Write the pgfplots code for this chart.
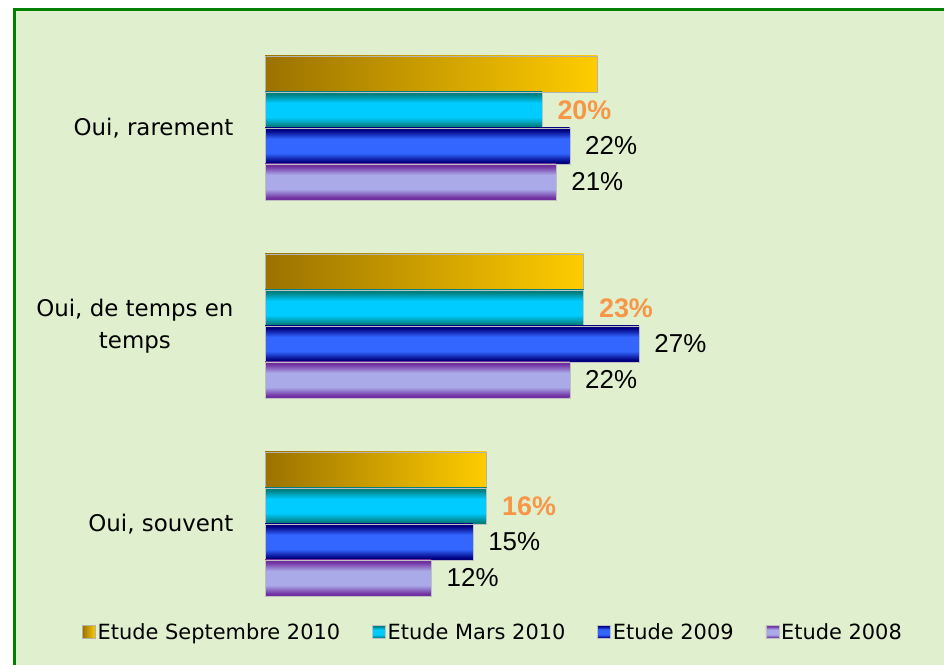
\documentclass[border=0pt]{standalone}
\usepackage{pgfplots}
\pgfplotsset{compat=1.18}
\usepackage{fontspec}
\setmainfont{DejaVu Sans}
\newfontfamily\labfont{Liberation Sans}
\definecolor{bgc}{RGB}{224,240,207}
\definecolor{bord}{RGB}{0,128,0}
\definecolor{goldL}{RGB}{155,114,0}
\definecolor{goldR}{RGB}{255,204,0}
\definecolor{tealE}{RGB}{0,128,128}
\definecolor{cyanM}{RGB}{0,204,255}
\definecolor{navyE}{RGB}{0,0,128}
\definecolor{blueM}{RGB}{51,102,255}
\definecolor{purpE}{RGB}{112,48,160}
\definecolor{lavM}{RGB}{170,170,232}
\definecolor{orangeL}{RGB}{247,150,70}
\pgfdeclareverticalshading{marsshade}{100bp}{color(0bp)=(tealE); color(28bp)=(tealE); color(40bp)=(cyanM); color(60bp)=(cyanM); color(72bp)=(tealE); color(100bp)=(tealE)}
\pgfdeclareverticalshading{bleushade}{100bp}{color(0bp)=(navyE); color(28bp)=(navyE); color(40bp)=(blueM); color(60bp)=(blueM); color(72bp)=(navyE); color(100bp)=(navyE)}
\pgfdeclareverticalshading{violshade}{100bp}{color(0bp)=(purpE); color(28bp)=(purpE); color(40bp)=(lavM); color(60bp)=(lavM); color(72bp)=(purpE); color(100bp)=(purpE)}
\pgfplotsset{
  mylegend/.style={legend image code/.code={\draw[##1, line width=0.5bp] (0bp,-6.5bp) rectangle (13bp,6.5bp);}},
  blacklab/.style={nodes near coords, point meta=explicit symbolic,
    every node near coord/.append style={text=black, anchor=west, xshift=12bp, font=\labfont\fontsize{26}{26}\selectfont}},
  orangelab/.style={nodes near coords, point meta=explicit symbolic,
    every node near coord/.append style={text=orangeL, anchor=west, xshift=12bp, font=\labfont\bfseries\fontsize{27}{27}\selectfont}},
  sept/.style={xbar, bar shift=54bp, left color=goldL, right color=goldR, draw=gray!60, line width=0.6bp, mylegend},
  mars/.style={xbar, bar shift=18bp, shading=marsshade, draw=gray!50, line width=0.4bp, mylegend, orangelab},
  e2009/.style={xbar, bar shift=-18bp, shading=bleushade, draw=gray!50, line width=0.4bp, mylegend, blacklab},
  e2008/.style={xbar, bar shift=-54bp, shading=violshade, draw=gray!50, line width=0.4bp, mylegend, blacklab},
}
\begin{document}
\begin{tikzpicture}
\path[use as bounding box] (0,0) rectangle (944bp,665bp);
\fill[bgc] (14bp,0) rectangle (944bp,655bp);
\draw[bord, line width=3bp] (14bp,0) -- (14bp,655bp) -- (944bp,655bp);
\begin{axis}[
  at={(265bp,42bp)}, anchor=south west,
  scale only axis, width=554bp, height=594bp,
  xmin=0, xmax=40, ymin=-0.5, ymax=2.5,
  xbar, bar width=36bp,
  axis line style={draw=none}, major tick length=0pt,
  xtick=\empty, ytick={0,1,2},
  yticklabels={{Oui, souvent},{Oui, de temps en\\temps},{Oui, rarement}},
  yticklabel style={font=\fontsize{23}{32}\selectfont, align=center, xshift=-28bp},
  clip=false,
  legend columns=4,
  legend style={at={(0.4116,-0.0152)}, anchor=center, draw=none, fill=none,
    font=\fontsize{21}{21}\selectfont,
    /tikz/every even column/.append style={column sep=30bp}},
]
% legend-carrying bars (Oui, rarement)
\addplot[sept] coordinates {(24,2)};
\addplot[mars] coordinates {(20,2) [20\%]};
\addplot[e2009] coordinates {(22,2) [22\%]};
\addplot[e2008] coordinates {(21,2) [21\%]};
% Oui, de temps en temps
\addplot[sept, forget plot] coordinates {(23,1)};
\addplot[mars, forget plot] coordinates {(23,1) [23\%]};
\addplot[e2009, forget plot] coordinates {(27,1) [27\%]};
\addplot[e2008, forget plot] coordinates {(22,1) [22\%]};
% Oui, souvent
\addplot[sept, forget plot] coordinates {(16,0)};
\addplot[mars, forget plot] coordinates {(16,0) [16\%]};
\addplot[e2009, forget plot] coordinates {(15,0) [15\%]};
\addplot[e2008, forget plot] coordinates {(12,0) [12\%]};
\legend{Etude Septembre 2010, Etude Mars 2010, Etude 2009, Etude 2008}
\end{axis}
\end{tikzpicture}
\end{document}
